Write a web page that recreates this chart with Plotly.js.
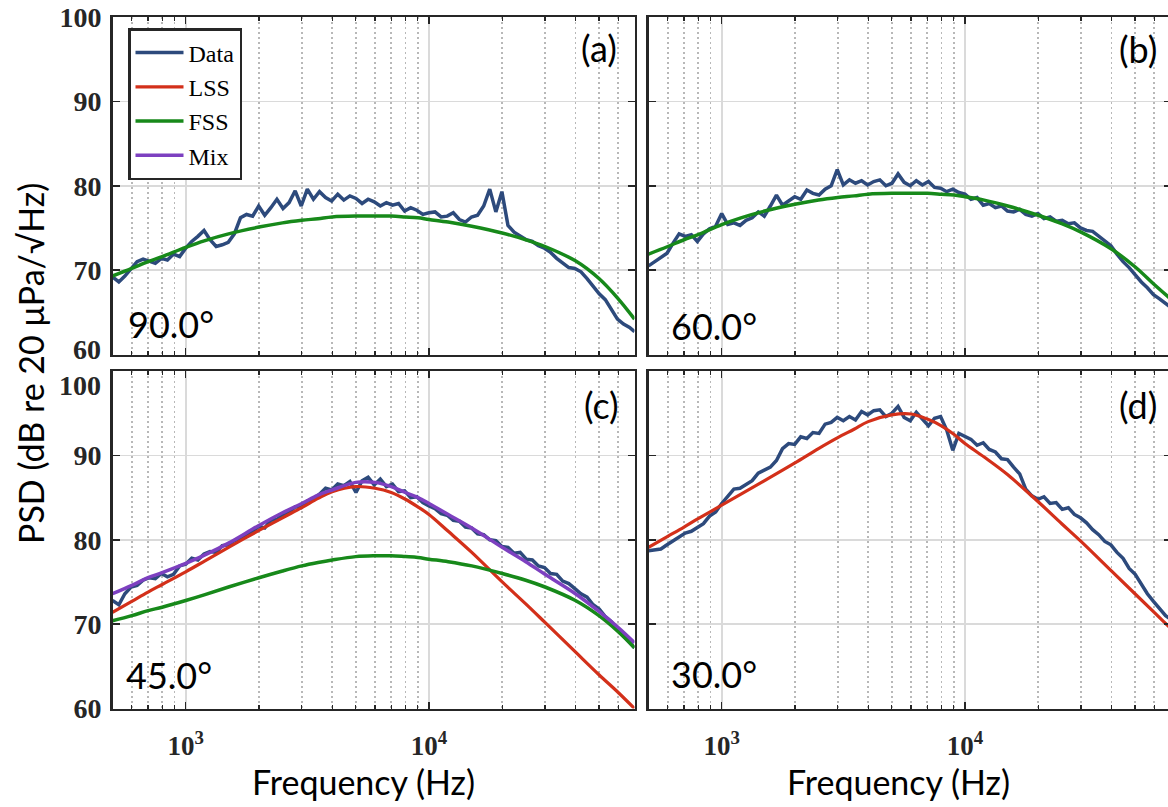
<!DOCTYPE html>
<html>
<head>
<meta charset="utf-8">
<script src="https://cdn.plot.ly/plotly-3.0.1.min.js"></script>
<style>
html,body{margin:0;padding:0;overflow:hidden;background:#fff;}
#chart{width:1172px;height:807px;}
</style>
</head>
<body>
<div id="chart"></div>
<script>
// ---- data ----
const dataFreq = [500,531,562,596,631,668,708,750,794,841,891,944,
  1000,1059,1122,1189,1259,1334,1413,1496,1585,1679,1778,1884,1995,2113,2239,2371,2512,2661,2818,2985,
  3162,3350,3548,3758,3981,4217,4467,4732,5012,5309,5623,5957,6310,6683,7079,7499,7943,8414,8913,9441,
  10000,10590,11220,11890,12590,13340,14130,14960,15850,16790,17780,18840,19950,21130,22390,23710,25120,26610,28180,29850,
  31620,33500,35480,37580,39810,42170,44670,47320,50120,53090,56230,59570,63100,66830,70000];

const dataA = [69.2,68.6,69.3,70.2,71.0,71.3,71.0,70.8,71.4,71.2,
  71.9,71.6,72.6,73.4,74.0,74.7,73.6,72.8,73.0,73.3,
  74.3,76.2,76.6,76.4,77.6,76.5,77.4,78.4,77.3,78.0,
  79.4,77.6,79.6,78.4,79.3,78.6,78.2,79.0,78.3,78.8,
  78.5,77.9,78.4,78.1,77.6,78.0,77.7,77.9,77.0,77.4,
  77.1,76.6,76.8,76.9,76.3,76.4,76.8,76.0,75.7,76.3,
  76.5,77.6,79.6,76.9,79.3,75.3,74.5,74.1,73.6,73.4,
  72.9,72.6,72.1,71.4,70.9,70.3,70.2,69.8,69.0,68.1,
  67.2,66.5,65.3,64.2,63.6,63.2,62.7];

const dataB = [70.5,71.0,71.5,72.0,73.2,74.3,74.0,74.2,73.4,74.3,
  74.9,75.2,76.7,75.4,75.6,75.3,75.9,76.2,76.9,76.4,
  77.6,78.9,77.7,78.2,78.7,78.4,79.5,79.1,78.9,79.6,
  80.0,81.9,80.1,80.7,80.3,80.6,80.1,80.5,80.7,80.0,
  80.3,81.4,80.4,80.0,80.6,80.1,80.5,79.8,79.7,79.3,
  79.6,79.2,79.0,78.4,78.6,77.7,77.9,77.4,77.6,77.0,
  76.9,77.2,76.6,76.4,76.7,76.1,76.3,75.8,75.9,75.5,
  75.6,75.0,74.7,74.6,74.0,73.4,72.9,71.9,71.0,70.3,
  69.4,68.6,67.9,67.1,66.6,66.1,65.6];

const dataC = [72.8,72.3,73.6,74.4,74.6,75.2,75.5,75.4,76.0,75.6,
  75.9,76.9,77.1,77.8,77.6,78.3,78.6,78.5,79.3,79.4,
  79.9,80.1,80.7,80.9,81.6,81.4,82.3,82.4,83.0,83.2,
  83.9,83.8,84.6,84.8,85.4,86.1,85.9,86.6,86.4,86.9,
  85.6,87.0,87.4,86.5,87.2,86.3,86.6,85.7,85.8,85.0,
  85.1,84.4,84.0,83.7,83.1,82.9,82.3,82.2,81.5,81.4,
  80.7,80.6,80.0,79.9,79.2,79.1,78.4,78.5,77.7,77.6,
  76.9,76.7,76.0,75.9,75.1,74.8,74.2,73.6,73.2,72.3,
  71.8,70.9,70.3,69.3,68.6,67.8,67.2];

const dataD = [78.7,78.8,78.9,79.4,79.9,80.4,80.8,81.0,81.5,81.9,
  82.8,83.3,84.3,85.1,86.0,86.1,86.6,87.0,87.9,88.3,
  88.6,89.4,90.8,91.4,91.3,92.2,92.0,92.7,92.6,93.7,
  93.9,94.5,94.1,94.6,94.2,95.2,94.8,95.3,95.4,94.6,
  95.0,95.8,94.5,94.1,95.1,94.3,93.5,94.4,94.6,93.0,
  90.6,92.6,92.2,91.9,91.2,91.5,90.7,90.4,89.6,89.5,
  88.6,87.8,86.0,85.2,84.8,85.1,84.3,84.4,83.6,83.8,
  83.0,82.6,82.0,81.2,80.6,79.8,79.4,78.5,77.8,76.6,
  75.9,74.8,73.6,72.7,71.8,71.0,70.6];

const fitFreq = [500,600,700,800,1000,1200,1500,2000,2500,3000,3500,4000,5000,6000,7000,8000,9000,
  10000,12000,15000,20000,25000,30000,40000,50000,60000,70000];

const fssA = [69.3,70.2,71.0,71.6,72.7,73.5,74.3,75.1,75.6,75.9,76.1,76.3,76.4,76.4,76.4,76.3,76.2,
  76.0,75.7,75.2,74.4,73.6,72.8,71.1,69.0,66.6,64.2];
const fssB = [71.9,72.8,73.6,74.2,75.4,76.2,77.0,77.8,78.3,78.6,78.8,79.0,79.1,79.1,79.1,79.0,78.9,
  78.7,78.3,77.6,76.5,75.5,74.5,72.5,70.4,68.3,66.6];
const lssC = [71.4,72.7,73.8,74.7,76.2,77.5,79.1,81.1,82.6,83.8,84.9,85.7,86.3,86.1,85.6,84.8,83.9,
  83.0,81.0,78.5,75.0,72.4,70.2,66.7,64.0,61.9,60.0];
const fssC = [70.4,71.0,71.6,72.0,72.8,73.5,74.4,75.5,76.3,76.9,77.3,77.6,78.0,78.1,78.1,78.0,77.9,
  77.7,77.4,76.9,76.0,75.2,74.4,72.8,71.0,69.1,67.2];
const mixC = [73.6,74.6,75.5,76.1,77.2,78.2,79.6,81.7,83.2,84.3,85.3,85.9,86.8,86.8,86.3,85.6,85.0,
  84.3,83.0,81.4,79.1,77.4,75.9,73.6,71.5,69.6,67.8];
const lssD = [79.1,80.4,81.5,82.5,84.1,85.4,87.0,89.1,90.8,92.1,93.1,94.0,94.8,94.9,94.3,93.5,92.5,
  91.4,89.8,87.7,84.5,81.9,79.8,76.3,73.6,71.4,69.5];

const seriesNames = ['Data','LSS','FSS','Mix'];
const panelLabels = ['(a)','(b)','(c)','(d)'];
const angleLabels = ['90.0°','60.0°','45.0°','30.0°'];
const xTickVals = [1000,10000];
const xTickText = ['10<sup>3</sup>','10<sup>4</sup>'];
const xMinorVals = [600,700,800,900,2000,3000,4000,5000,6000,7000,8000,9000,20000,30000,40000,50000,60000];
const yTickVals = [60,70,80,90,100];
const yTickText = ['60','70','80','90','100'];
const xRange = [500,70000];
const yRange = [60,100];
const xTitle = 'Frequency (Hz)';
const yTitle = 'PSD (dB re 20 μPa/√Hz)';

// ---- styles ----
const W = 1172, H = 807;
const C = {Data:'#2d4a7c', LSS:'#d3301a', FSS:'#17891a', Mix:'#7d40c0'};
const LW = {Data:3.5, LSS:3.2, FSS:3.5, Mix:3.5};
const px = v => v / W;
const py = v => 1 - v / H;

function tr(x, y, name, xa, ya, legend) {
  return {x: x, y: y, name: name, type:'scatter', mode:'lines',
    xaxis: xa, yaxis: ya, showlegend: legend,
    line: {color: C[name], width: LW[name], shape: name === 'Data' ? 'linear' : 'spline'},
    hoverinfo: 'skip'};
}

const traces = [
  tr(dataFreq, dataA, 'Data', 'x', 'y', false),
  tr(fitFreq, fssA, 'FSS', 'x', 'y', false),
  tr(dataFreq, dataB, 'Data', 'x2', 'y2', false),
  tr(fitFreq, fssB, 'FSS', 'x2', 'y2', false),
  tr(dataFreq, dataC, 'Data', 'x3', 'y3', true),
  tr(fitFreq, lssC, 'LSS', 'x3', 'y3', true),
  tr(fitFreq, fssC, 'FSS', 'x3', 'y3', true),
  tr(fitFreq, mixC, 'Mix', 'x3', 'y3', true),
  tr(dataFreq, dataD, 'Data', 'x4', 'y4', false),
  tr(fitFreq, lssD, 'LSS', 'x4', 'y4', false)
];

const tickFont = {family:'Liberation Serif', size:28, color:'#262626', weight:'bold'};
const axisCommon = {
  ticks:'inside', ticklen:7, tickwidth:1.5, tickcolor:'#262626',
  showline:true, linecolor:'#262626', linewidth:2.5, mirror:'ticks',
  showgrid:true, gridcolor:'#dadada', gridwidth:1.6, zeroline:false, fixedrange:true,
  tickfont: tickFont
};

function xAxis(dom, anchor, labels) {
  return Object.assign({}, axisCommon, {
    type:'log', range:[Math.log10(xRange[0]), Math.log10(xRange[1])], domain:dom, anchor:anchor,
    tickmode:'array', tickvals:xTickVals, ticktext:xTickText, showticklabels:labels,
    ticklabelstandoff: 12,
    tickfont: Object.assign({}, tickFont, {size:27}),
    minor:{tickmode:'array', tickvals:xMinorVals, ticks:'inside', ticklen:4, tickwidth:1.2,
      tickcolor:'#262626', showgrid:true, gridcolor:'#b8b8b8', gridwidth:1.6, griddash:'2px,3px'}
  });
}
function yAxis(dom, anchor, labels, text) {
  return Object.assign({}, axisCommon, {
    range:yRange, domain:dom, anchor:anchor,
    tickmode:'array', tickvals:yTickVals, ticktext:text, showticklabels:labels,
    ticklabelstandoff: 3
  });
}

// the two labels at the join of the panels sit slightly apart in the reference: drawn as annotations
const yTickTextTop = yTickText.map(t => t === '60' ? '' : t);
const yTickTextBottom = yTickText.map(t => t === '100' ? '' : t);

const xL = [px(112.5), px(634.5)], xR = [px(648.5), px(1170.5)];
const yT = [py(354.5), py(17)], yB = [py(708.5), py(371)];

const annFont = {family:'Lato', size:36, color:'#000'};
const titleFont = {family:'Lato', size:34, color:'#000'};
function ann(text, x, y, xanchor, font, extra) {
  return Object.assign({text:text, xref:'paper', yref:'paper', x:px(x), y:py(y),
    xanchor:xanchor, yanchor:'middle', showarrow:false, font:font}, extra || {});
}

const annotations = [
  ann(panelLabels[0], 619, 48, 'right', annFont),
  ann(panelLabels[1], 1159, 49, 'right', annFont),
  ann(panelLabels[2], 621, 405, 'right', annFont),
  ann(panelLabels[3], 1159, 405, 'right', annFont),
  ann(angleLabels[0], 126, 324, 'left', annFont),
  ann(angleLabels[1], 669, 326, 'left', annFont),
  ann(angleLabels[2], 124, 675, 'left', annFont),
  ann(angleLabels[3], 669, 674, 'left', annFont),
  ann(xTitle, 363, 781, 'center', titleFont),
  ann(xTitle, 898, 781, 'center', titleFont),
  ann(yTitle, 30, 364, 'center', titleFont, {textangle:-90}),
  ann(yTickText[0], 102, 349, 'right', tickFont, {borderpad:0}),
  ann(yTickText[4], 102, 385, 'right', tickFont, {borderpad:0})
];

const layout = {
  width: W, height: H,
  margin:{l:0, r:0, t:0, b:0},
  paper_bgcolor:'#ffffff', plot_bgcolor:'#ffffff',
  showlegend:true,
  legend:{x:px(128), y:py(28), xanchor:'left', yanchor:'top',
    bgcolor:'#ffffff', bordercolor:'#262626', borderwidth:2.5, itemwidth:48,
    font:{family:'Liberation Serif', size:24, color:'#000'}, tracegroupgap:0, traceorder:'normal'},
  xaxis: xAxis(xL, 'y', false),
  yaxis: yAxis(yT, 'x', true, yTickTextTop),
  xaxis2: xAxis(xR, 'y2', false),
  yaxis2: yAxis(yT, 'x2', false, yTickText),
  xaxis3: xAxis(xL, 'y3', true),
  yaxis3: yAxis(yB, 'x3', true, yTickTextBottom),
  xaxis4: xAxis(xR, 'y4', true),
  yaxis4: yAxis(yB, 'x4', false, yTickText),
  annotations: annotations
};

Plotly.newPlot('chart', traces, layout, {staticPlot:true, displayModeBar:false});
</script>
</body>
</html>
